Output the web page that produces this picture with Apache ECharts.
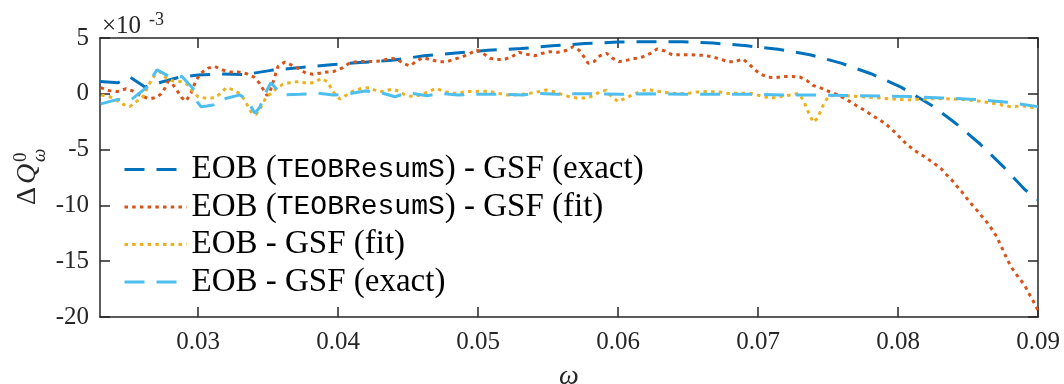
<!DOCTYPE html>
<html>
<head>
<meta charset="utf-8">
<script src="https://cdn.jsdelivr.net/npm/echarts@6/dist/echarts.min.js"></script>
<style>
  html, body { margin: 0; padding: 0; background: #ffffff; }
  #chart { width: 1064px; height: 384px; }
</style>
</head>
<body>
<div id="chart"></div>
<script>
// Residual Delta Q_omega^0 (in units of 1e-3) against the orbital frequency omega.

const xTicks = [0.03, 0.04, 0.05, 0.06, 0.07, 0.08, 0.09];

const seriesNames = [
  'EOB (TEOBResumS) - GSF (exact)',
  'EOB (TEOBResumS) - GSF (fit)',
  'EOB - GSF (fit)',
  'EOB - GSF (exact)'
];

// EOB (TEOBResumS) - GSF (exact)
const omegaTeobExact = [0.023, 0.02429, 0.02514, 0.02621, 0.02714, 0.02871, 0.03, 0.03157, 0.03336, 0.03521,
  0.03929, 0.04157, 0.04386, 0.04614, 0.04843, 0.05071, 0.05307, 0.05529, 0.05764, 0.06,
  0.06221, 0.06457, 0.06679, 0.06921, 0.07143, 0.07371, 0.07593, 0.07807, 0.08021, 0.08236,
  0.08407, 0.08586, 0.0875, 0.08907, 0.09];
const dqTeobExact = [1.1, 1.0, 1.5, 0.6, 0.97, 1.5, 1.68, 1.77, 1.72, 2.1,
  2.58, 2.8, 3.0, 3.4, 3.65, 3.9, 4.05, 4.3, 4.5, 4.64,
  4.67, 4.67, 4.55, 4.3, 4.0, 3.5, 2.75, 1.8, 0.6, -1.0,
  -2.6, -4.5, -6.5, -8.6, -9.5];

// EOB (TEOBResumS) - GSF (fit)
const omegaTeobFit = [0.02305, 0.02357, 0.02421, 0.02486, 0.02536, 0.02593, 0.02657, 0.02707, 0.02736, 0.02764,
  0.02786, 0.02814, 0.0285, 0.02884, 0.02914, 0.0295, 0.02986, 0.03021, 0.03071, 0.03121,
  0.03171, 0.03229, 0.03286, 0.03348, 0.034, 0.03436, 0.03471, 0.03493, 0.03514, 0.03543,
  0.03571, 0.03621, 0.03664, 0.03714, 0.03771, 0.03821, 0.03871, 0.03921, 0.03971, 0.04036,
  0.04086, 0.04134, 0.04193, 0.04257, 0.04314, 0.04364, 0.04419, 0.04464, 0.04514, 0.04562,
  0.04607, 0.04669, 0.04729, 0.04779, 0.04836, 0.04891, 0.04943, 0.04991, 0.05036, 0.05086,
  0.05136, 0.05193, 0.05241, 0.05293, 0.05348, 0.05407, 0.05462, 0.05514, 0.05571, 0.05634,
  0.05679, 0.05721, 0.05757, 0.05786, 0.05829, 0.05871, 0.05919, 0.05962, 0.06007, 0.06071,
  0.06129, 0.06179, 0.06234, 0.06279, 0.06336, 0.06386, 0.065, 0.06614, 0.06669, 0.06729,
  0.06784, 0.06836, 0.06891, 0.06936, 0.06979, 0.07021, 0.07071, 0.07129, 0.07186, 0.07243,
  0.073, 0.07348, 0.07393, 0.07455, 0.075, 0.07562, 0.07607, 0.07657, 0.07705, 0.07757,
  0.07805, 0.0785, 0.079, 0.07943, 0.07986, 0.08026, 0.08069, 0.08114, 0.08162, 0.08207,
  0.08257, 0.08305, 0.08343, 0.08384, 0.08419, 0.08455, 0.08491, 0.08531, 0.08566, 0.08605,
  0.08641, 0.08674, 0.08705, 0.08729, 0.08752, 0.08776, 0.08805, 0.08836, 0.08871, 0.08907,
  0.08931, 0.08962, 0.08986, 0.09];
const dqTeobFit = [0.55, 0.3, 0.2, 0.45, 0.25, -0.2, -0.45, -0.3, 0.0, 0.5,
  1.1, 0.95, 0.3, -0.35, -0.65, 0.05, 1.2, 1.85, 2.3, 2.45,
  2.15, 1.95, 1.95, 1.8, 1.5, 1.0, 0.3, -0.15, 0.2, 1.3,
  2.45, 2.85, 2.6, 2.3, 1.85, 1.75, 1.85, 1.95, 2.0, 2.34,
  2.8, 2.88, 2.9, 2.9, 2.95, 3.18, 3.12, 2.73, 2.5, 2.94,
  3.24, 3.03, 2.88, 2.88, 3.12, 3.32, 3.63, 3.92, 3.63, 3.18,
  3.07, 3.1, 3.32, 3.72, 3.54, 3.41, 3.63, 3.77, 3.72, 3.9,
  4.22, 3.92, 3.32, 2.73, 2.88, 3.41, 3.63, 3.18, 2.88, 3.03,
  3.18, 3.32, 3.63, 4.01, 3.83, 3.5, 3.5, 3.45, 3.32, 3.12,
  2.88, 2.88, 3.12, 2.67, 2.13, 1.75, 1.48, 1.45, 1.55, 1.55,
  1.5, 1.2, 0.75, 0.49, 0.25, -0.05, -0.35, -0.7, -1.07, -1.45,
  -1.84, -2.2, -2.59, -3.04, -3.54, -4.08, -4.59, -5.04, -5.42, -5.78,
  -6.23, -6.68, -7.21, -7.72, -8.26, -8.77, -9.36, -9.96, -10.47, -11.07,
  -11.6, -12.2, -12.8, -13.46, -14.06, -14.74, -15.43, -16.03, -16.6, -17.2,
  -17.82, -18.48, -19.08, -19.4];

// EOB - GSF (fit)
const omegaEobFit = [0.02309, 0.02369, 0.02416, 0.02464, 0.02512, 0.02559, 0.02607, 0.02655, 0.02691, 0.02726,
  0.02774, 0.02821, 0.02881, 0.02929, 0.02964, 0.03, 0.03059, 0.03119, 0.03162, 0.03202,
  0.03257, 0.03305, 0.03334, 0.03362, 0.03386, 0.03416, 0.03452, 0.03488, 0.03524, 0.03566,
  0.03607, 0.03666, 0.03726, 0.03781, 0.03834, 0.03881, 0.03924, 0.03952, 0.03981, 0.04014,
  0.04062, 0.04109, 0.04169, 0.04224, 0.04276, 0.04329, 0.04384, 0.04431, 0.04479, 0.04534,
  0.04591, 0.04645, 0.047, 0.04752, 0.04805, 0.04859, 0.04914, 0.05, 0.05086, 0.05145,
  0.052, 0.05257, 0.05312, 0.05371, 0.05431, 0.05486, 0.05543, 0.05598, 0.05652, 0.05705,
  0.05764, 0.05819, 0.05871, 0.05914, 0.05955, 0.06002, 0.0605, 0.06105, 0.06157, 0.06209,
  0.06271, 0.06329, 0.06386, 0.06443, 0.06502, 0.06557, 0.06643, 0.06729, 0.06786, 0.06871,
  0.06955, 0.07014, 0.07074, 0.07129, 0.07186, 0.07241, 0.07288, 0.07324, 0.07348, 0.07371,
  0.07395, 0.07424, 0.07448, 0.07471, 0.07502, 0.0755, 0.07729, 0.07843, 0.07955, 0.08066,
  0.08229, 0.08348, 0.08464, 0.08574, 0.08681, 0.088, 0.08895, 0.09];
const dqEobFit = [-0.1, -0.26, -0.56, -0.94, -1.15, -0.7, -0.26, 0.94, 1.68, 1.98,
  1.39, 1.15, 1.08, 0.79, 0.19, -0.26, -0.4, -0.35, 0.04, 0.55,
  0.34, -0.05, -0.56, -1.25, -1.75, -1.84, -1.15, -0.26, 0.04, 0.55,
  0.85, 1.03, 1.08, 0.94, 1.03, 1.39, 1.08, 0.49, -0.1, -0.47,
  -0.1, 0.25, 0.49, 0.55, 0.25, 0.19, 0.43, 0.25, -0.1, -0.26,
  -0.1, 0.19, 0.49, 0.25, 0.04, 0.04, 0.2, 0.22, 0.22, 0.04,
  -0.1, -0.1, -0.05, 0.04, 0.19, 0.34, 0.19, -0.05, -0.26, -0.38,
  -0.38, -0.2, 0.19, 0.31, -0.26, -0.7, -0.4, -0.1, 0.19, 0.4,
  0.25, 0.13, 0.05, 0.0, 0.04, 0.16, 0.2, 0.16, 0.03, 0.05,
  0.03, -0.17, -0.35, -0.35, -0.17, -0.1, 0.04, -0.56, -1.3, -1.96,
  -2.55, -2.2, -1.54, -0.85, -0.26, -0.1, -0.25, -0.35, -0.47, -0.55,
  -0.45, -0.45, -0.5, -0.65, -0.85, -1.15, -1.1, -1.3];

// EOB - GSF (exact)
const omegaEobExact = [0.02305, 0.02429, 0.02521, 0.02636, 0.02679, 0.02707, 0.0275, 0.02786, 0.0285, 0.02886,
  0.02929, 0.02964, 0.02993, 0.03021, 0.03064, 0.03107, 0.03157, 0.033, 0.0335, 0.03407,
  0.03443, 0.03493, 0.03521, 0.036, 0.03729, 0.03857, 0.03964, 0.0405, 0.04193, 0.04279,
  0.04407, 0.045, 0.04636, 0.04729, 0.04857, 0.04957, 0.051, 0.05179, 0.05321, 0.05421,
  0.05564, 0.05657, 0.058, 0.06014, 0.06229, 0.06479, 0.06729, 0.06943, 0.07171, 0.07393,
  0.07636, 0.07857, 0.08086, 0.08321, 0.0855, 0.08779, 0.09];
const dqEobExact = [-0.9, -0.5, -0.55, 0.6, 1.6, 2.15, 1.85, 1.6, 1.5, 1.55,
  0.95, 0.5, -0.7, -1.15, -1.1, -1.0, -0.55, -0.1, -0.56, -1.75,
  -1.15, 0.35, 1.0, -0.1, -0.05, 0.05, -0.1, -0.05, 0.25, 0.2,
  -0.26, 0.1, -0.17, 0.05, -0.1, -0.05, -0.05, -0.05, -0.1, 0.05,
  -0.05, 0.0, 0.0, -0.05, 0.0, -0.05, -0.05, -0.05, -0.1, -0.1,
  -0.15, -0.2, -0.25, -0.38, -0.5, -0.75, -1.15];

const serif = '"Liberation Serif", "DejaVu Serif", serif';
const mono = '"Liberation Mono", "DejaVu Sans Mono", monospace';
const ink = '#262626';

function pairs(xs, ys) {
  return xs.map((x, i) => [x, ys[i]]);
}

function lineSeries(name, xs, ys, color, dash) {
  return {
    name: name,
    type: 'line',
    data: pairs(xs, ys),
    symbol: 'none',
    showSymbol: false,
    smooth: false,
    clip: true,
    itemStyle: { color: color },
    lineStyle: { color: color, width: 3, type: dash, cap: 'butt' },
    emphasis: { disabled: true }
  };
}

const frameAxis = {
  axisLine: { show: true, onZero: false, lineStyle: { color: ink, width: 1.5 } },
  splitLine: { show: false }
};

const chart = echarts.init(document.getElementById('chart'), null, { renderer: 'canvas' });

chart.setOption({
  animation: false,
  backgroundColor: '#ffffff',
  grid: { left: 100, right: 26, top: 38, bottom: 67, containLabel: false },
  xAxis: [
    Object.assign({
      type: 'value', min: 0.023, max: 0.09, position: 'bottom',
      axisTick: { show: true, inside: true, length: 10, customValues: xTicks, lineStyle: { color: ink, width: 1.5 } },
      axisLabel: {
        customValues: xTicks, formatter: v => v.toFixed(2),
        fontFamily: serif, fontSize: 25, color: ink, margin: 13
      }
    }, frameAxis),
    Object.assign({
      type: 'value', min: 0.023, max: 0.09, position: 'top',
      axisTick: { show: true, inside: true, length: 10, customValues: xTicks, lineStyle: { color: ink, width: 1.5 } },
      axisLabel: { show: false }
    }, frameAxis)
  ],
  yAxis: [
    Object.assign({
      type: 'value', min: -20, max: 5, interval: 5, position: 'left',
      axisTick: { show: true, inside: true, length: 10, lineStyle: { color: ink, width: 1.5 } },
      axisLabel: { fontFamily: serif, fontSize: 25, color: ink, margin: 11 }
    }, frameAxis),
    Object.assign({
      type: 'value', min: -20, max: 5, interval: 5, position: 'right',
      axisTick: { show: true, inside: true, length: 10, lineStyle: { color: ink, width: 1.5 } },
      axisLabel: { show: false }
    }, frameAxis)
  ],
  legend: {
    orient: 'vertical',
    left: 123,
    top: 153,
    padding: 0,
    itemWidth: 62,
    itemHeight: 14,
    itemGap: 4.5,
    data: seriesNames,
    selectedMode: false,
    itemStyle: { opacity: 0 },
    lineStyle: { width: 3 },
    formatter: n => n.replace('TEOBResumS', '{m|TEOBResumS}'),
    textStyle: {
      fontFamily: serif, fontSize: 33, color: '#000000',
      rich: { m: { fontFamily: mono, fontSize: 28, color: '#000000' } }
    }
  },
  graphic: [
    // axis exponent
    { type: 'text', x: 102, y: 26, style: { text: '×10', font: '25px "Liberation Serif"', fill: ink, verticalAlign: 'middle', align: 'left' } },
    { type: 'text', x: 149, y: 20, style: { text: '-3', font: '18px "Liberation Serif"', fill: ink, verticalAlign: 'middle', align: 'left' } },
    // y-axis title, rotated
    {
      type: 'group', x: 28, y: 207, rotation: Math.PI / 2,
      children: [
        { type: 'text', x: 2, y: 0, style: { text: 'Δ', font: '28px "Liberation Serif"', fill: ink, verticalAlign: 'middle', align: 'left' } },
        { type: 'text', x: 23, y: 0, style: { text: 'Q', font: 'italic 28px "Liberation Serif"', fill: ink, verticalAlign: 'middle', align: 'left' } },
        { type: 'text', x: 45, y: -7, style: { text: '0', font: '19px "Liberation Serif"', fill: ink, verticalAlign: 'middle', align: 'left' } },
        { type: 'text', x: 45, y: 12, style: { text: 'ω', font: 'italic 19px "Liberation Serif"', fill: ink, verticalAlign: 'middle', align: 'left' } }
      ]
    },
    // x-axis title
    { type: 'text', x: 569, y: 377, style: { text: 'ω', font: 'italic 28px "Liberation Serif"', fill: ink, verticalAlign: 'middle', align: 'center' } }
  ],
  series: [
    lineSeries(seriesNames[0], omegaTeobExact, dqTeobExact, '#0072BD', [20, 12]),
    lineSeries(seriesNames[1], omegaTeobFit, dqTeobFit, '#D95319', [3.5, 4.2]),
    lineSeries(seriesNames[2], omegaEobFit, dqEobFit, '#EDB120', [3.5, 4.2]),
    lineSeries(seriesNames[3], omegaEobExact, dqEobExact, '#4DBEEE', [20, 12])
  ]
});
</script>
</body>
</html>
